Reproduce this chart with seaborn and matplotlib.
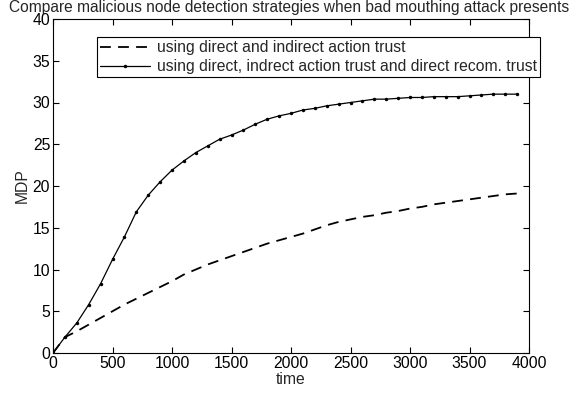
import matplotlib
matplotlib.use("Agg")
import matplotlib.pyplot as plt
import seaborn as sns
import pandas as pd

time = list(range(0, 4000, 100))
mdp_direct_indirect = [0, 1.9, 2.6, 3.4, 4.2, 5.0, 5.8, 6.5, 7.2, 7.9,
                       8.6, 9.4, 10.0, 10.6, 11.1, 11.6, 12.1, 12.6, 13.1, 13.5,
                       13.9, 14.3, 14.8, 15.3, 15.7, 16.0, 16.3, 16.5, 16.8, 17.0,
                       17.3, 17.5, 17.8, 18.0, 18.2, 18.4, 18.6, 18.8, 19.0, 19.1]
mdp_with_recom = [0, 1.9, 3.6, 5.8, 8.3, 11.2, 13.9, 16.9, 18.9, 20.5,
                  21.9, 23.0, 24.0, 24.8, 25.6, 26.1, 26.7, 27.4, 28.0, 28.4,
                  28.7, 29.1, 29.3, 29.6, 29.8, 30.0, 30.2, 30.4, 30.4, 30.5,
                  30.6, 30.6, 30.7, 30.7, 30.7, 30.8, 30.9, 31.0, 31.0, 31.0]
labels = ["using direct and indirect action trust",
          "using direct, indrect action trust and direct recom. trust"]
xticks = [0, 500, 1000, 1500, 2000, 2500, 3000, 3500, 4000]
yticks = [0, 5, 10, 15, 20, 25, 30, 35, 40]

sns.set_style("white")
FS = 11.3
plt.rcParams.update({
    'font.family': ['Liberation Sans', 'DejaVu Sans'],
    'font.size': FS,
    'xtick.bottom': True, 'xtick.top': True,
    'ytick.left': True, 'ytick.right': True,
    'xtick.direction': 'in', 'ytick.direction': 'in',
    'xtick.major.size': 4.5, 'ytick.major.size': 4.5,
    'xtick.major.width': 0.8, 'ytick.major.width': 0.8,
    'xtick.color': 'black', 'ytick.color': 'black',
    'axes.edgecolor': 'black', 'axes.linewidth': 0.8,
})

W, H = 578, 397
L, R, T, B = 53, 529, 19, 353
fig = plt.figure(figsize=(W / 100, H / 100), dpi=100)
ax = fig.add_axes([L / W, 1 - B / H, (R - L) / W, (B - T) / H])

df1 = pd.DataFrame({"time": time, "MDP": mdp_direct_indirect})
df2 = pd.DataFrame({"time": time, "MDP": mdp_with_recom})
sns.lineplot(data=df1, x="time", y="MDP", ax=ax, color="black", linewidth=1.3,
             linestyle=(0, (6, 4)), label=labels[0])
sns.lineplot(data=df2, x="time", y="MDP", ax=ax, color="black", linewidth=0.9,
             marker="o", markersize=2.5, markeredgewidth=0, label=labels[1])

ax.set_xlim(0, 4000)
ax.set_ylim(0, 40)
ax.set_xticks(xticks)
ax.set_yticks(yticks)
ax.tick_params(which="major", direction="in", bottom=True, left=True, top=True, right=True,
               length=4.5, width=0.8, color="black", labelcolor="black",
               labelsize=FS, pad=2)
ax.set_xlabel("time", fontsize=FS, labelpad=1)
ax.set_ylabel("MDP", fontsize=FS, labelpad=2)
fig.text(0.5, 1, "Compare malicious node detection strategies when bad mouthing attack presents",
         fontsize=11.2, ha="center", va="top")

leg = ax.legend(loc="upper left", bbox_to_anchor=(97 / W, 1 - 37 / H),
                bbox_transform=fig.transFigure, frameon=True, fancybox=False,
                edgecolor="black", framealpha=1, borderpad=0.2,
                labelspacing=0.25, handlelength=3.2, handletextpad=0.4,
                borderaxespad=0, fontsize=FS)
leg.get_frame().set_linewidth(0.8)

fig.savefig("out.png", dpi=100)
